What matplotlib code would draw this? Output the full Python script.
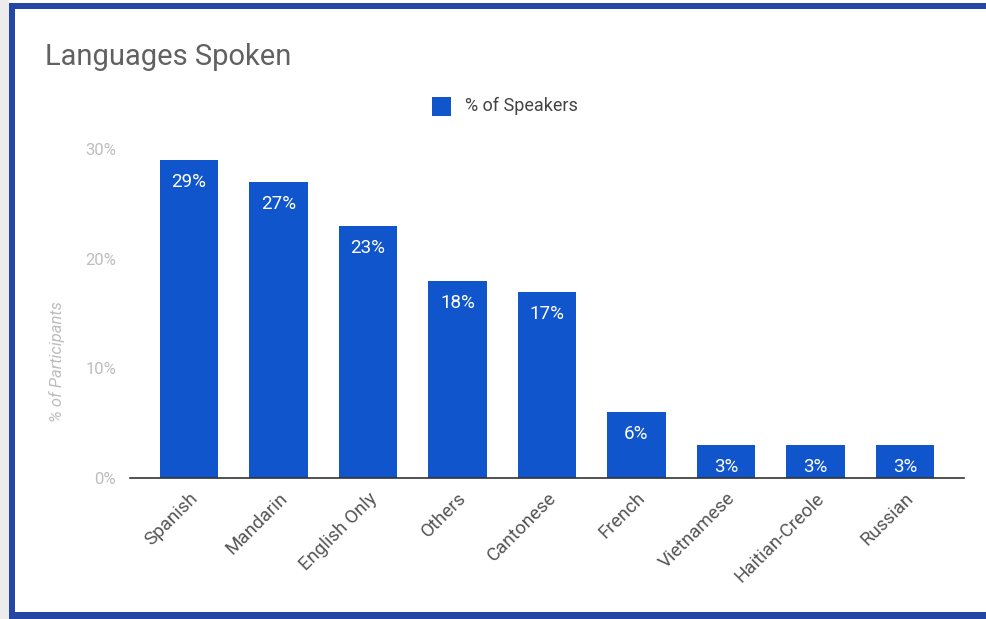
import matplotlib.pyplot as plt
from matplotlib.patches import Rectangle
from matplotlib.transforms import ScaledTranslation
import numpy as np

plt.rcParams['font.family'] = ['Roboto', 'DejaVu Sans']

languages = ['Spanish', 'Mandarin', 'English Only', 'Others', 'Cantonese',
             'French', 'Vietnamese', 'Haitian-Creole', 'Russian']
speakers = [29, 27, 23, 18, 17, 6, 3, 3, 3]
y_ticks = [0, 10, 20, 30]

BAR_BLUE = '#1155cc'
FRAME_BLUE = '#2447a6'

W, H = 986, 619
fig = plt.figure(figsize=(W / 100, H / 100), dpi=100)

# card frame: shadow on the left, blue border (open on the right)
fig.patches.append(Rectangle((0, 0), 9 / W, 1, transform=fig.transFigure,
                             color='#ececec', lw=0, zorder=0))
fig.patches.append(Rectangle((9 / W, 0), 6 / W, 1 - 3 / H, transform=fig.transFigure,
                             color=FRAME_BLUE, lw=0, zorder=1))
fig.patches.append(Rectangle((9 / W, 1 - 9 / H), 1, 6 / H, transform=fig.transFigure,
                             color=FRAME_BLUE, lw=0, zorder=1))
fig.patches.append(Rectangle((9 / W, 0), 1, 7 / H, transform=fig.transFigure,
                             color=FRAME_BLUE, lw=0, zorder=1))

ax = fig.add_axes([130 / W, (H - 478) / H, (964 - 130) / W, (478 - 149) / H])
x = np.arange(len(languages))
bars = ax.bar(x, speakers, width=0.65, color=BAR_BLUE, zorder=2)

for b, v in zip(bars, speakers):
    ax.annotate(f'{v}%', (b.get_x() + b.get_width() / 2, v),
                xytext=(0, -22), textcoords='offset pixels',
                ha='center', va='center', color='white', fontsize=13.5)

ax.set_xlim(-0.66, 8.66)
ax.set_ylim(0, 30)
ax.set_yticks(y_ticks)
ax.set_yticklabels([f'{t}%' for t in y_ticks], color='#bdbdbd', fontsize=12)
ax.set_xticks(x)
ax.set_xticklabels(languages, rotation=45, ha='right', rotation_mode='anchor',
                   color='#555555', fontsize=13.5)
# nudge the slanted labels so they end just right of each bar centre
shift = ScaledTranslation(14 / 100, 0, fig.dpi_scale_trans)
for lbl in ax.get_xticklabels():
    lbl.set_transform(lbl.get_transform() + shift)
ax.tick_params(axis='both', length=0)
ax.tick_params(axis='y', pad=10)
ax.tick_params(axis='x', pad=8)
for side in ['top', 'right', 'left']:
    ax.spines[side].set_visible(False)
ax.spines['bottom'].set_color('#333333')
ax.spines['bottom'].set_linewidth(1.2)
ax.spines['bottom'].set_zorder(3)

fig.text(45 / W, 1 - 57 / H, 'Languages Spoken', fontsize=21, color='#616161',
         ha='left', va='center')
fig.text(57 / W, 1 - 361 / H, '% of Participants', fontsize=12, color='#bdbdbd',
         style='italic', rotation=90, ha='center', va='center')

# legend
fig.patches.append(Rectangle((432 / W, 1 - 116 / H), 19 / W, 19 / H,
                             transform=fig.transFigure, color=BAR_BLUE, lw=0))
fig.text(465 / W, 1 - 106 / H, '% of Speakers', fontsize=13, color='#444444',
         ha='left', va='center')

fig.savefig('out.png', dpi=100)
